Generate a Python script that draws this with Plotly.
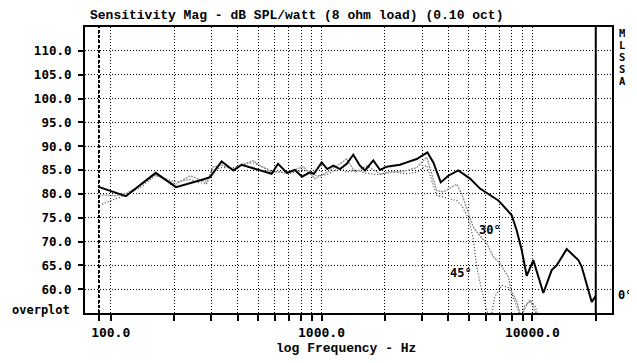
import plotly.graph_objects as go

# ---- data ----
freq_0 = [88.3, 118, 163.5, 204, 274, 296, 336, 382, 418, 580, 622, 686, 748, 808, 881, 921,
          1002, 1065, 1138, 1224, 1317, 1415, 1522, 1608, 1761, 1895, 2039, 2357, 2537, 2829,
          3177, 3392, 3678, 3996, 4457, 5064, 5648, 6184, 6899, 7183, 7985, 8433, 8905, 9406,
          10110, 11278, 12359, 13053, 14562, 16532, 17155, 19131, 20000]
spl_0 = [81.4, 79.5, 84.4, 81.4, 83.0, 83.5, 86.8, 84.9, 86.1, 84.2, 86.3, 84.4, 85.0, 83.6, 84.5, 84.2,
         86.6, 85.2, 85.9, 85.2, 86.3, 88.2, 85.9, 84.9, 87.0, 85.0, 85.7, 86.1, 86.6, 87.3,
         88.7, 86.6, 82.4, 83.8, 84.9, 83.2, 81.1, 80.0, 78.6, 77.8, 75.5, 72.3, 68.2, 62.8,
         66.1, 59.2, 64.0, 65.0, 68.4, 66.1, 64.7, 57.3, 58.6]

freq_30 = [88.3, 105, 118, 140, 163, 204, 238, 285, 305, 336, 382, 475, 511, 580, 709, 820, 931,
           1059, 1224, 1317, 1443, 1639, 1895, 2114, 2489, 2829, 3155, 3520, 3785, 4379, 4625,
           4971, 5250, 5543, 6075, 6531, 7026, 7693, 7985, 8433, 8839, 9334, 9750, 10400, 11000]
spl_30 = [79.8, 79.6, 80.0, 82.0, 84.0, 82.0, 83.8, 82.4, 85.6, 86.0, 85.2, 87.0, 85.9, 84.5, 84.7, 85.7, 83.2,
          84.5, 86.3, 87.3, 84.5, 85.9, 84.2, 84.5, 84.8, 85.5, 87.7, 80.7, 80.4, 82.0, 80.0,
          76.0, 73.0, 71.6, 69.6, 66.8, 65.4, 62.6, 59.4, 57.5, 54.0, 56.5, 57.8, 55.0, 53.0]

freq_45 = [88.3, 100, 118, 140, 163, 204, 238, 285, 305, 336, 382, 420, 475, 580, 700, 820, 930,
           1059, 1224, 1317, 1443, 1639, 1895, 2114, 2489, 2829, 3155, 3520, 3996, 4379, 4625,
           4971, 5250, 5447, 5754, 6075, 6300, 6653, 7183, 7693, 8180, 8839, 9200, 9800, 10300, 10900]
spl_45 = [77.6, 78.5, 79.8, 81.5, 83.8, 82.5, 83.0, 82.0, 85.0, 85.5, 85.5, 86.3, 86.5, 84.8, 84.2, 85.0, 83.8,
          84.0, 85.5, 84.5, 85.0, 84.3, 84.0, 84.8, 84.2, 84.5, 86.0, 79.7, 79.0, 78.6, 77.5,
          75.0, 70.5, 64.7, 59.8, 55.6, 53.0, 58.5, 60.8, 60.3, 58.0, 54.0, 56.5, 57.5, 56.5, 53.0]

x_grid = [100, 200, 300, 400, 500, 600, 700, 800, 900,
          1000, 2000, 3000, 4000, 5000, 6000, 7000, 8000, 9000, 10000, 20000]
x_labels = {100: "100.0", 1000: "1000.0", 10000: "10000.0"}
y_ticks = [60, 65, 70, 75, 80, 85, 90, 95, 100, 105, 110]
side_letters = ["M", "L", "S", "S", "A"]
gate_freq = 88
limit_freq = 20000

MONO = "DejaVu Sans Mono"
COUR = "Liberation Mono"

fig = go.Figure()
fig.add_trace(go.Scatter(x=freq_45, y=spl_45, mode="lines",
                         line=dict(color="#333333", width=1.1, dash="1px,2px")))
fig.add_trace(go.Scatter(x=freq_30, y=spl_30, mode="lines",
                         line=dict(color="#8c8c8c", width=1.3, dash="2px,1px")))
fig.add_trace(go.Scatter(x=freq_0, y=spl_0, mode="lines",
                         line=dict(color="#000000", width=2)))

fig.add_shape(type="line", xref="x", yref="paper", x0=gate_freq, x1=gate_freq, y0=0, y1=1,
              line=dict(color="#000", width=2, dash="3px,2px"))
fig.add_shape(type="line", xref="x", yref="paper", x0=limit_freq, x1=limit_freq, y0=0, y1=1,
              line=dict(color="#000", width=2))

# page body adds an 8px offset; figure is sized so it fills the 637x363 window
OFF = 8
W, H = 637 - OFF, 363 - OFF
L, T = 85 - OFF, 27 - OFF
R = W - (612 - OFF)
B = H - (313 - OFF)
pw, ph = W - L - R, H - T - B

def px(xp):
    return (xp - OFF - L) / pw

def py(yp):
    return (H - B - (yp - OFF)) / ph

ann = []
ann.append(dict(text="<b>Sensitivity Mag - dB SPL/watt (8 ohm load) (0.10 oct)</b>",
                x=px(88), y=py(16), xanchor="left", yanchor="middle",
                font=dict(family=COUR, size=13, color="#000")))
ann.append(dict(text="<b>log Frequency - Hz</b>", x=px(346), y=py(348),
                xanchor="center", yanchor="middle", font=dict(family=COUR, size=13, color="#000")))
ann.append(dict(text="<b>overplot</b>", x=px(41), y=py(310), xanchor="center", yanchor="middle",
                font=dict(family=MONO, size=12, color="#000")))
for i, ch in enumerate(side_letters):
    ann.append(dict(text="<b>%s</b>" % ch, x=px(622), y=py(33 + i * 12), xanchor="center",
                    yanchor="middle", height=10, borderpad=0,
                    font=dict(family=MONO, size=10.5, color="#000")))
ann.append(dict(text="<b>0°</b>", x=px(625), y=py(295), xanchor="center", yanchor="middle",
                font=dict(family=MONO, size=12, color="#000")))
ann.append(dict(text="<b>30°</b>", x=px(490), y=py(230), xanchor="center", yanchor="middle",
                font=dict(family=MONO, size=12, color="#000")))
ann.append(dict(text="<b>45°</b>", x=px(461), y=py(273), xanchor="center", yanchor="middle",
                font=dict(family=MONO, size=12, color="#000")))
for a in ann:
    a.update(xref="paper", yref="paper", showarrow=False)

fig.update_layout(
    width=W, height=H, margin=dict(l=L, r=R, t=T, b=B),
    paper_bgcolor="white", plot_bgcolor="white", showlegend=False,
    annotations=ann,
    xaxis=dict(type="log", range=[1.8781, 4.378], automargin=False,
               tickvals=x_grid + [gate_freq],
               ticktext=["<b>%s</b>" % x_labels[v] if v in x_labels else "" for v in x_grid] + [""],
               ticks="outside", ticklen=6, tickwidth=1.5, tickcolor="#000",
               showgrid=True, gridcolor="#000", gridwidth=1, griddash="1px,2px",
               showline=True, linecolor="#000", linewidth=2, mirror=True,
               zeroline=False, tickfont=dict(family=MONO, size=13, color="#000"),
               ticklabelstandoff=0),
    yaxis=dict(range=[55, 115], tickvals=y_ticks, automargin=False,
               ticktext=["<b>%.1f</b>" % v for v in y_ticks],
               ticks="outside", ticklen=5, tickwidth=1.5, tickcolor="#000",
               showgrid=True, gridcolor="#000", gridwidth=1, griddash="1px,2px",
               showline=True, linecolor="#000", linewidth=2, mirror=True,
               zeroline=False, tickfont=dict(family=MONO, size=12.5, color="#000"),
               ticklabelstandoff=4),
)

fig.write_html("out.html")
